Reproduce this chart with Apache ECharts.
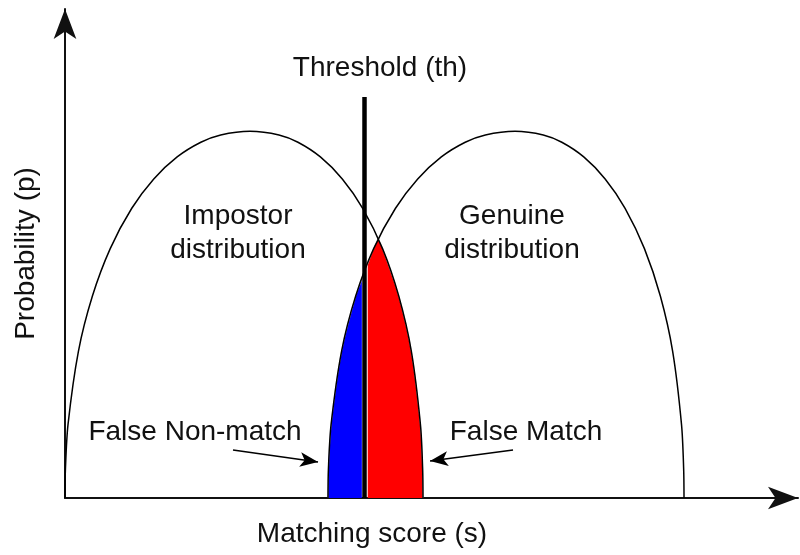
<!DOCTYPE html>
<html>
<head>
<meta charset="utf-8">
<script src="https://cdn.jsdelivr.net/npm/echarts@6/dist/echarts.min.js"></script>
<style>
  html, body { margin: 0; padding: 0; background: #fff; }
  #main { width: 800px; height: 555px; }
</style>
</head>
<body>
<div id="main"></div>
<script type="text/javascript">
// score on x (0..100), probability on y (0..1)
var impostor = [
  [0, 0], [0.06, 0.06], [0.41, 0.15], [1.83, 0.3], [3.73, 0.4125], [6.17, 0.51],
  [9.11, 0.5925], [12.11, 0.6525], [15.3, 0.6975], [18.53, 0.7275], [21.24, 0.7425],
  [25.24, 0.75],
  [29.19, 0.7425], [31.78, 0.7275], [34.84, 0.6975], [37.83, 0.6525], [40.61, 0.5925],
  [43.32, 0.51], [45.54, 0.4125], [47.25, 0.3], [48.49, 0.15], [48.79, 0.06], [48.84, 0]
];
var genuine = [
  [35.88, 0], [35.94, 0.06], [36.3, 0.15], [37.73, 0.3], [39.65, 0.4125], [42.11, 0.51],
  [45.09, 0.5925], [48.12, 0.6525], [51.34, 0.6975], [54.6, 0.7275], [57.35, 0.7425],
  [61.39, 0.75],
  [65.25, 0.7425], [67.78, 0.7275], [70.77, 0.6975], [73.69, 0.6525], [76.41, 0.5925],
  [79.05, 0.51], [81.23, 0.4125], [82.9, 0.3], [84.11, 0.15], [84.4, 0.06], [84.45, 0]
];
// overlap left of threshold (false non-match) and right of it (false match)
var falseNonMatch = [
  [35.88, 0], [35.94, 0.06], [36.3, 0.15], [37.73, 0.3], [39.65, 0.4125], [40.5, 0.446]
];
var falseMatch = [
  [41.3, 0.478], [42.11, 0.51], [42.75, 0.527], [43.32, 0.51], [45.54, 0.4125],
  [47.25, 0.3], [48.49, 0.15], [48.79, 0.06], [48.84, 0]
];
var threshold = 40.89;
var thresholdTop = 0.82;
var arrowFNM = [[22.92, 0.098], [34.52, 0.0736]];
var arrowFM = [[61.12, 0.098], [49.8, 0.0757]];

var FONT = "'Liberation Sans', Arial, sans-serif";

var myChart = echarts.init(document.getElementById('main'));

function txt(text, x, y) {
    return {
        type: 'text',
        style: {
            text: text, x: x, y: y,
            font: '28px ' + FONT,
            fill: '#111',
            align: 'center',
            verticalAlign: 'middle',
            lineHeight: 34
        }
    };
}

var option = {
    animation: false,
    grid: { left: 65, right: 2, top: 9, bottom: 57, containLabel: false, outerBoundsMode: 'none' },
    xAxis: {
        type: 'value',
        min: 0,
        max: 100,
        axisLine: { show: true, symbol: ['none', 'arrow'], symbolSize: [17, 30], lineStyle: { color: '#111', width: 2 } },
        axisTick: { show: false },
        axisLabel: { show: false },
        splitLine: { show: false }
    },
    yAxis: {
        type: 'value',
        min: 0,
        max: 1,
        name: 'Probability (p)',
        nameLocation: 'middle',
        nameRotate: 90,
        nameGap: 25,
        nameTextStyle: { fontSize: 28, fontFamily: FONT, color: '#111' },
        axisLine: { show: true, symbol: ['none', 'arrow'], symbolSize: [17, 30], lineStyle: { color: '#111', width: 2 } },
        axisTick: { show: false },
        axisLabel: { show: false },
        splitLine: { show: false }
    },
    series: [
        {
            name: 'False Non-match',
            type: 'line',
            data: falseNonMatch,
            smooth: 0.3,
            showSymbol: false,
            silent: true,
            z: 2,
            lineStyle: { color: '#c8c8e8', width: 1 },
            areaStyle: { color: '#0000ff', opacity: 1 }
        },
        {
            name: 'False Match',
            type: 'line',
            data: falseMatch,
            smooth: 0.3,
            showSymbol: false,
            silent: true,
            z: 2,
            lineStyle: { color: '#e0c8c8', width: 1 },
            areaStyle: { color: '#ff0000', opacity: 1 }
        },
        {
            name: 'Impostor',
            type: 'line',
            data: impostor,
            smooth: 0.3,
            showSymbol: false,
            silent: true,
            z: 3,
            lineStyle: { color: '#000', width: 1.5 },
            markLine: {
                silent: true,
                symbol: ['none', 'none'],
                label: { show: false },
                lineStyle: { color: '#000', width: 4.5, type: 'solid' },
                data: [[{ coord: [threshold, 0] }, { coord: [threshold, thresholdTop] }]]
            }
        },
        {
            name: 'Genuine',
            type: 'line',
            data: genuine,
            smooth: 0.3,
            showSymbol: false,
            silent: true,
            z: 3,
            lineStyle: { color: '#000', width: 1.5 },
            markLine: {
                silent: true,
                symbol: ['none', 'arrow'],
                symbolSize: [11, 18],
                label: { show: false },
                lineStyle: { color: '#000', width: 1.5, type: 'solid' },
                data: [
                    [{ coord: arrowFNM[0] }, { coord: arrowFNM[1] }],
                    [{ coord: arrowFM[0] }, { coord: arrowFM[1] }]
                ]
            }
        }
    ],
    graphic: [
        txt('Threshold (th)', 380, 68),
        txt('Impostor\ndistribution', 238, 233),
        txt('Genuine\ndistribution', 512, 233),
        txt('False Non-match', 195, 432),
        txt('False Match', 526, 432),
        txt('Matching score (s)', 372, 534)
    ]
};

myChart.setOption(option);
</script>
</body>
</html>
